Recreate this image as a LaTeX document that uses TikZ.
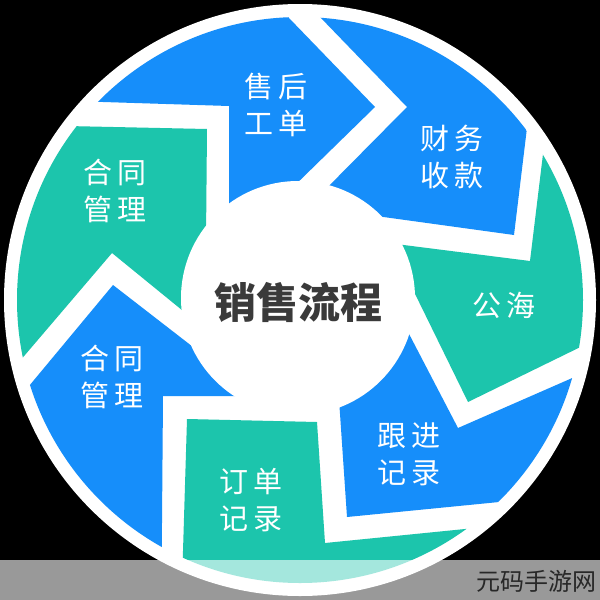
\documentclass[tikz,border=0pt]{standalone}
\usepackage{fontspec}
\usepackage{tikz}
\newfontfamily\cjk{Noto Sans CJK SC}
\definecolor{segblue}{RGB}{22,142,250}
\definecolor{segteal}{RGB}{28,197,172}
\definecolor{hubtext}{RGB}{58,58,58}
\definecolor{marktext}{RGB}{40,40,40}

\begin{document}
\begin{tikzpicture}[x=1pt,y=-1pt]
	\tikzstyle{every node}+=[inner sep=0pt]
	\tikzstyle{blueseg}=[fill=segblue]
	\tikzstyle{tealseg}=[fill=segteal]
	\tikzstyle{steplabel}=[text=white,align=center,font=\cjk\fontsize{29}{37}\selectfont]
	\useasboundingbox (0,0) rectangle (600,600);
	\fill [black] (0,0) rectangle (600,600);
	\fill [white] (300,300) circle (296);
	\begin{scope}
		\clip (300,300) circle (283);
		\fill [blueseg] (40,100) -- (229,106) -- (229,240) -- (290,190) -- (375,107) -- (260,-12) -- (120,0) -- cycle;
		\fill [blueseg] (290,-14) -- (407,107) -- (315,200) -- (340,211) -- (514,235) -- (534,70) -- (420,-10) -- cycle;
		\fill [tealseg] (552,80) -- (530,261) -- (380,242) -- (395,253) -- (468,402) -- (650,313) -- (640,140) -- cycle;
		\fill [blueseg] (650,344) -- (458,428) -- (395,307) -- (335,340) -- (347,517) -- (560,496) -- (680,450) -- cycle;
		\fill [tealseg] (540,521.5) -- (325,543) -- (317,422) -- (187,419) -- (180,650) -- (300,660) -- cycle;
		\fill [blueseg] (161,650) -- (163,396) -- (260,396) -- (215,364) -- (113,285) -- (-20,445) -- (40,640) -- cycle;
		\fill [tealseg] (20,125) -- (207,129) -- (206,240) -- (215,337) -- (112,253) -- (-39,430) -- (-40,200) -- cycle;
	\end{scope}
	\fill [white] (298,298) circle (117);
	\node [text=hubtext,font=\cjk\bfseries\fontsize{42}{50}\selectfont] (hub) at (298,302) {销售流程};
	\node [steplabel] (aftersale) at (276,105) {售\hspace{6pt}后\\工\hspace{6pt}单};
	\node [steplabel] (finance) at (452,157) {财\hspace{6pt}务\\收\hspace{6pt}款};
	\node [steplabel] (pool) at (504,305) {公\hspace{6pt}海};
	\node [steplabel] (followup) at (409,454) {跟\hspace{6pt}进\\记\hspace{6pt}录};
	\node [steplabel] (order) at (251,500) {订\hspace{6pt}单\\记\hspace{6pt}录};
	\node [steplabel] (contractlow) at (112,377) {合\hspace{6pt}同\\管\hspace{6pt}理};
	\node [steplabel] (contractup) at (115,191) {合\hspace{6pt}同\\管\hspace{6pt}理};
	\fill [white,opacity=0.6] (0,560) rectangle (600,600);
	\node [text=marktext,font=\cjk\fontsize{24}{24}\selectfont] (mark) at (536,581) {元码手游网};
\end{tikzpicture}
\end{document}
